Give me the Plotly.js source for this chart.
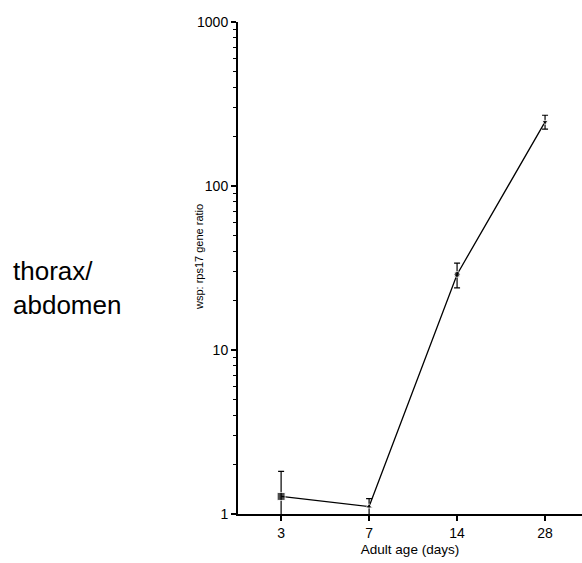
<!DOCTYPE html>
<html>
<head>
<meta charset="utf-8">
<script src="https://cdn.plot.ly/plotly-3.0.1.min.js"></script>
<style>
  html, body { margin: 0; padding: 0; background: #fff; }
  #chart { width: 582px; height: 563px; }
</style>
</head>
<body>
<div id="chart"></div>
<script>
// Adult age groups (days) and wsp:rps17 expression ratio, thorax/abdomen
const ages = ['3', '7', '14', '28'];
const ratio = [1.28, 1.11, 28.9, 246];
const ratioErr = [0.54, 0.13, 5.0, 24];
const markerSymbols = ['square', 'triangle-up', 'circle', 'triangle-down'];
const markerSizes = [8, 6, 6, 6];
const yTickVals = [1, 10, 100, 1000];
const yTickText = ['1', '10', '100', '1000'];
const yMinorVals = [2, 3, 4, 5, 6, 7, 8, 9, 20, 30, 40, 50, 60, 70, 80, 90, 200, 300, 400, 500, 600, 700, 800, 900];

const font = 'Liberation Sans, Arial, sans-serif';

const trace = {
  type: 'scatter',
  mode: 'lines+markers',
  x: ages,
  y: ratio,
  line: { color: '#000', width: 1.3 },
  marker: { color: '#000', symbol: markerSymbols, size: markerSizes },
  error_y: { type: 'data', array: ratioErr, visible: true, color: '#000', thickness: 1.2, width: 3 },
  cliponaxis: true,
  hoverinfo: 'x+y'
};

const layout = {
  width: 582,
  height: 563,
  margin: { l: 238, r: 0, t: 22, b: 49, pad: 0 },
  paper_bgcolor: '#fff',
  plot_bgcolor: '#fff',
  showlegend: false,
  font: { family: font, color: '#000', size: 14 },
  xaxis: {
    type: 'category',
    range: [-0.49, 3.42],
    showline: true,
    linecolor: '#000',
    linewidth: 2,
    showgrid: false,
    zeroline: false,
    ticks: 'outside',
    ticklen: 5,
    tickwidth: 1.5,
    tickcolor: '#000',
    tickfont: { family: font, size: 14, color: '#000' },
    title: { text: 'Adult age (days)', font: { family: font, size: 13.5, color: '#000' }, standoff: 5 }
  },
  yaxis: {
    type: 'log',
    range: [0, 3],
    showline: true,
    linecolor: '#000',
    linewidth: 2,
    showgrid: false,
    zeroline: false,
    tickmode: 'array',
    tickvals: yTickVals,
    ticktext: yTickText,
    ticks: 'outside',
    ticklen: 5,
    tickwidth: 1.5,
    tickcolor: '#000',
    tickfont: { family: font, size: 14, color: '#000' },
    minor: { tickmode: 'array', tickvals: yMinorVals, ticks: 'outside', ticklen: 3, tickwidth: 1.2, tickcolor: '#000', showgrid: false }
  },
  annotations: [
    {
      text: 'wsp: rps17 gene ratio',
      xref: 'paper', yref: 'paper',
      x: (199 - 238) / 344, y: (514 - 257) / 492,
      xanchor: 'center', yanchor: 'middle',
      textangle: -90,
      showarrow: false,
      font: { family: font, size: 11, color: '#000' }
    },
    {
      text: 'thorax/<br>abdomen',
      xref: 'paper', yref: 'paper',
      x: (11 - 238) / 344, y: (514 - 288) / 492,
      xanchor: 'left', yanchor: 'middle',
      align: 'left',
      showarrow: false,
      font: { family: font, size: 26, color: '#000' }
    }
  ]
};

Plotly.newPlot('chart', [trace], layout, { staticPlot: true, displayModeBar: false });
</script>
</body>
</html>
